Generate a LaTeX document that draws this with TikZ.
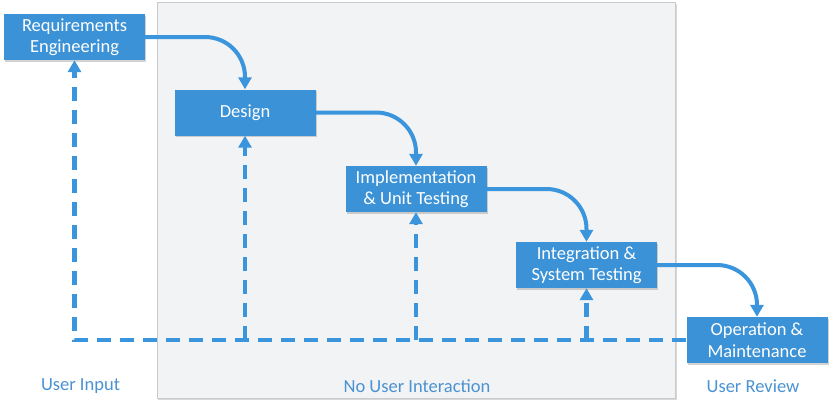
\documentclass[tikz,border=0pt]{standalone}
\usepackage{fontspec}
\setmainfont{Carlito}
\usetikzlibrary{arrows.meta,shadows}
\definecolor{boxblue}{HTML}{3B92D6}
\definecolor{lineblue}{HTML}{3A95DC}
\definecolor{labelblue}{HTML}{4A92D2}
\definecolor{panelgray}{HTML}{F2F3F4}
\definecolor{paneledge}{HTML}{C9CACB}
\tikzset{
  phase/.style={fill=boxblue, text=white, minimum width=141bp, minimum height=46bp,
    inner sep=0pt, align=center, font=\fontsize{18.5bp}{21.5bp}\selectfont,
    drop shadow={shadow xshift=1.2bp, shadow yshift=-1.5bp, opacity=0.35, fill=gray}},
  flow/.style={draw=lineblue, line width=4bp, rounded corners=40bp,
    -{Triangle[width=13bp,length=12bp]}},
  dashflow/.style={draw=lineblue, line width=4.2bp, dash pattern=on 14bp off 9bp,
    -{Triangle[width=13bp,length=12bp]}},
  zonelabel/.style={text=labelblue, font=\fontsize{18.5bp}{21.5bp}\selectfont, inner sep=0pt}
}
\begin{document}
\begin{tikzpicture}[x=1bp,y=-1bp]
\useasboundingbox (0,0) rectangle (833,406);
\fill[white] (0,0) rectangle (833,406);
% panel
\node[fill=panelgray, draw=paneledge, line width=0.8bp, minimum width=518bp, minimum height=396bp,
  inner sep=0pt, drop shadow={shadow xshift=1.5bp, shadow yshift=-1.5bp, opacity=0.3, fill=gray}]
  (panel) at (416,200) {};
% phases
\node[phase] (req) at (74.5,37) {Requirements\\Engineering};
\node[phase] (design) at (245,112.5) {Design};
\node[phase] (impl) at (416,189) {Implementation\\\& Unit Testing};
\node[phase] (integ) at (586.5,265) {Integration \&\\System Testing};
\node[phase] (op) at (757,340) {Operation \&\\Maintenance};
% solid flow
\draw[flow] (req.east) -| (design.north);
\draw[flow] (design.east) -| (impl.north);
\draw[flow] (impl.east) -| (integ.north);
\draw[flow] (integ.east) -| (op.north);
% dashed feedback
\draw[dashflow] (op.west) -- (op.west -| req.south) -- (req.south);
\draw[dashflow] (design.south |- op.west) -- (design.south);
\draw[dashflow] (impl.south |- op.west) -- (impl.south);
\draw[dashflow] (integ.south |- op.west) -- (integ.south);
% zone labels
\node[zonelabel] (lin) at (80.5,386) {User Input};
\node[zonelabel] (lnone) at (417,386) {No User Interaction};
\node[zonelabel] (lrev) at (753,386) {User Review};
\end{tikzpicture}
\end{document}
